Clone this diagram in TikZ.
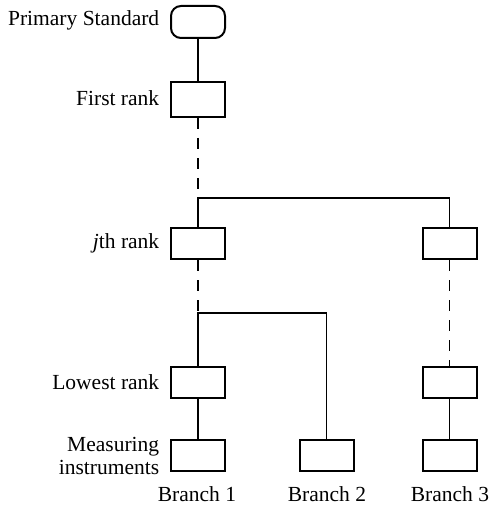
\documentclass[tikz,border=0pt]{standalone}
\usepackage{fontspec}
\setmainfont{Liberation Serif}
\begin{document}
\begin{tikzpicture}[x=1pt,y=-1pt,line width=1.6pt,
  box/.style={draw,line width=2pt,minimum width=54pt,minimum height=31pt,inner sep=0pt},
  lbl/.style={anchor=east,align=right,inner sep=0pt,font=\fontsize{21.5}{23}\selectfont},
  brn/.style={inner sep=0pt,font=\fontsize{21.5}{23}\selectfont},
  dsh/.style={dash pattern=on 11pt off 9pt}]
\useasboundingbox(0,0)rectangle(493,505);
\node[box,rounded corners=10pt,minimum height=32pt](prim)at(198,22){};
\node[box,minimum height=35pt](first)at(198,99.5){};
\node[box](jth)at(198,243.5){};
\node[box](jthr)at(449.5,243.5){};
\node[box](low)at(198,382){};
\node[box](lowr)at(449.5,382){};
\node[box](meas1)at(198,455.5){};
\node[box](meas2)at(326.5,455.5){};
\node[box](meas3)at(449.5,455.5){};
\coordinate(split1)at(198,198);
\coordinate(split2)at(198,313);
\draw(160,20)node[lbl](lprim){Primary Standard};
\draw(160,98)node[lbl](lfirst){First rank};
\draw(160,243)node[lbl](ljth){\textit{j}th rank};
\draw(160,382)node[lbl](llow){Lowest rank};
\draw(160,456)node[lbl](lmeas){Measuring\\instruments};
\draw(197,494)node[brn](b1){Branch 1};
\draw(327,494)node[brn](b2){Branch 2};
\draw(450,494)node[brn](b3){Branch 3};
\draw(prim)--(first);
\draw[dsh](first)--(split1);
\draw(jth)--(split1)-|(jthr);
\draw[dsh](jth)--(split2);
\draw(low)--(split2)-|(meas2);
\draw[dsh](jthr)--(lowr);
\draw(low)--(meas1);
\draw(lowr)--(meas3);
\end{tikzpicture}
\end{document}
